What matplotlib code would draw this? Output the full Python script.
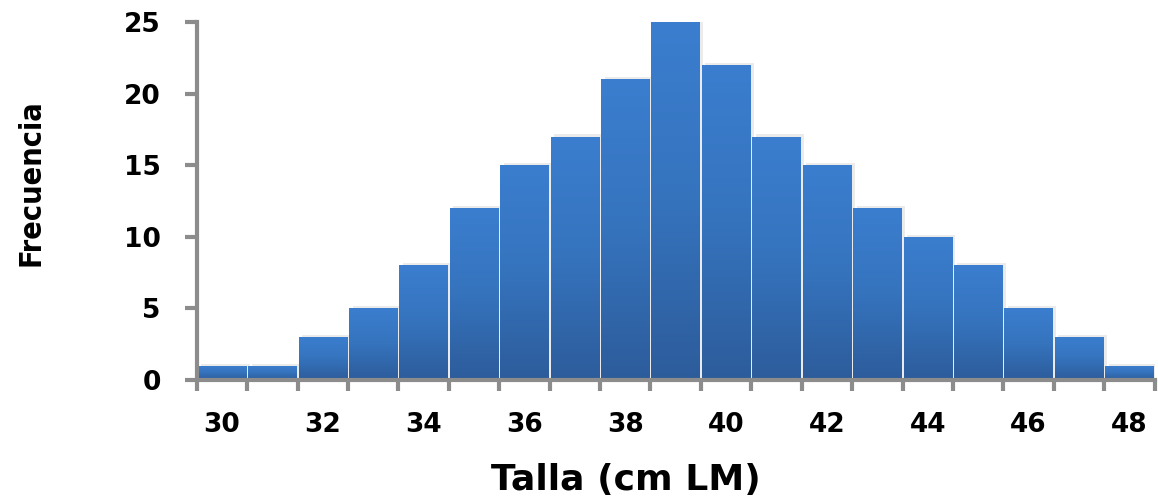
import matplotlib.pyplot as plt
import numpy as np
from matplotlib.colors import LinearSegmentedColormap

tallas = [30, 31, 32, 33, 34, 35, 36, 37, 38, 39, 40, 41, 42, 43, 44, 45, 46, 47, 48]
frecuencia = [1, 1, 3, 5, 8, 12, 15, 17, 21, 25, 22, 17, 15, 12, 10, 8, 5, 3, 1]
xticks = [30, 32, 34, 36, 38, 40, 42, 44, 46, 48]
yticks = [0, 5, 10, 15, 20, 25]

fig = plt.figure(figsize=(11.58, 5), dpi=100)
ax = fig.add_axes([0.170, 0.24, 0.827, 0.716])

cmap = LinearSegmentedColormap.from_list('barra', ['#2d5c9b', '#3573bd', '#3b7ecf'])
grad = np.linspace(0, 1, 256).reshape(-1, 1)
w = 0.96
for x, f in zip(tallas, frecuencia):
    # sombra
    ax.bar(x + 0.07, f + 0.15, width=w, bottom=0, color='#d8d8d8', alpha=0.5, zorder=1, linewidth=0)
    b = ax.bar(x, f, width=w, color='none', zorder=2, linewidth=0)
    im = ax.imshow(grad, cmap=cmap, aspect='auto', origin='lower',
                   extent=(x - w / 2, x + w / 2, 0, f), zorder=2)
    im.set_clip_path(b[0])

ax.set_xlim(29.5, 48.5)
ax.set_ylim(0, 25)
ax.set_xticks(xticks)
ax.set_xticks(np.arange(29.5, 49, 1), minor=True)
ax.set_yticks(yticks)

for s in ['top', 'right']:
    ax.spines[s].set_visible(False)
for s in ['left', 'bottom']:
    ax.spines[s].set_color('#8c8c8c')
    ax.spines[s].set_linewidth(3)

ax.tick_params(axis='x', which='major', length=0, pad=23)
ax.tick_params(axis='x', which='minor', length=8, width=3, color='#8c8c8c')
ax.tick_params(axis='y', length=9, width=3, color='#8c8c8c', pad=17)

for lab in ax.get_xticklabels() + ax.get_yticklabels():
    lab.set_fontfamily('DejaVu Sans')
    lab.set_fontweight('bold')
    lab.set_fontsize(19)

ax.set_xlabel('Talla (cm LM)', fontfamily='DejaVu Sans', fontweight='bold', fontsize=26)
ax.xaxis.set_label_coords(0.448, -0.232)
ax.set_ylabel('Frecuencia', fontfamily='DejaVu Sans', fontstretch='condensed', fontweight='bold',
              fontsize=22)
ax.yaxis.set_label_coords(-0.158, 0.55)

fig.savefig('out.png', dpi=100)
